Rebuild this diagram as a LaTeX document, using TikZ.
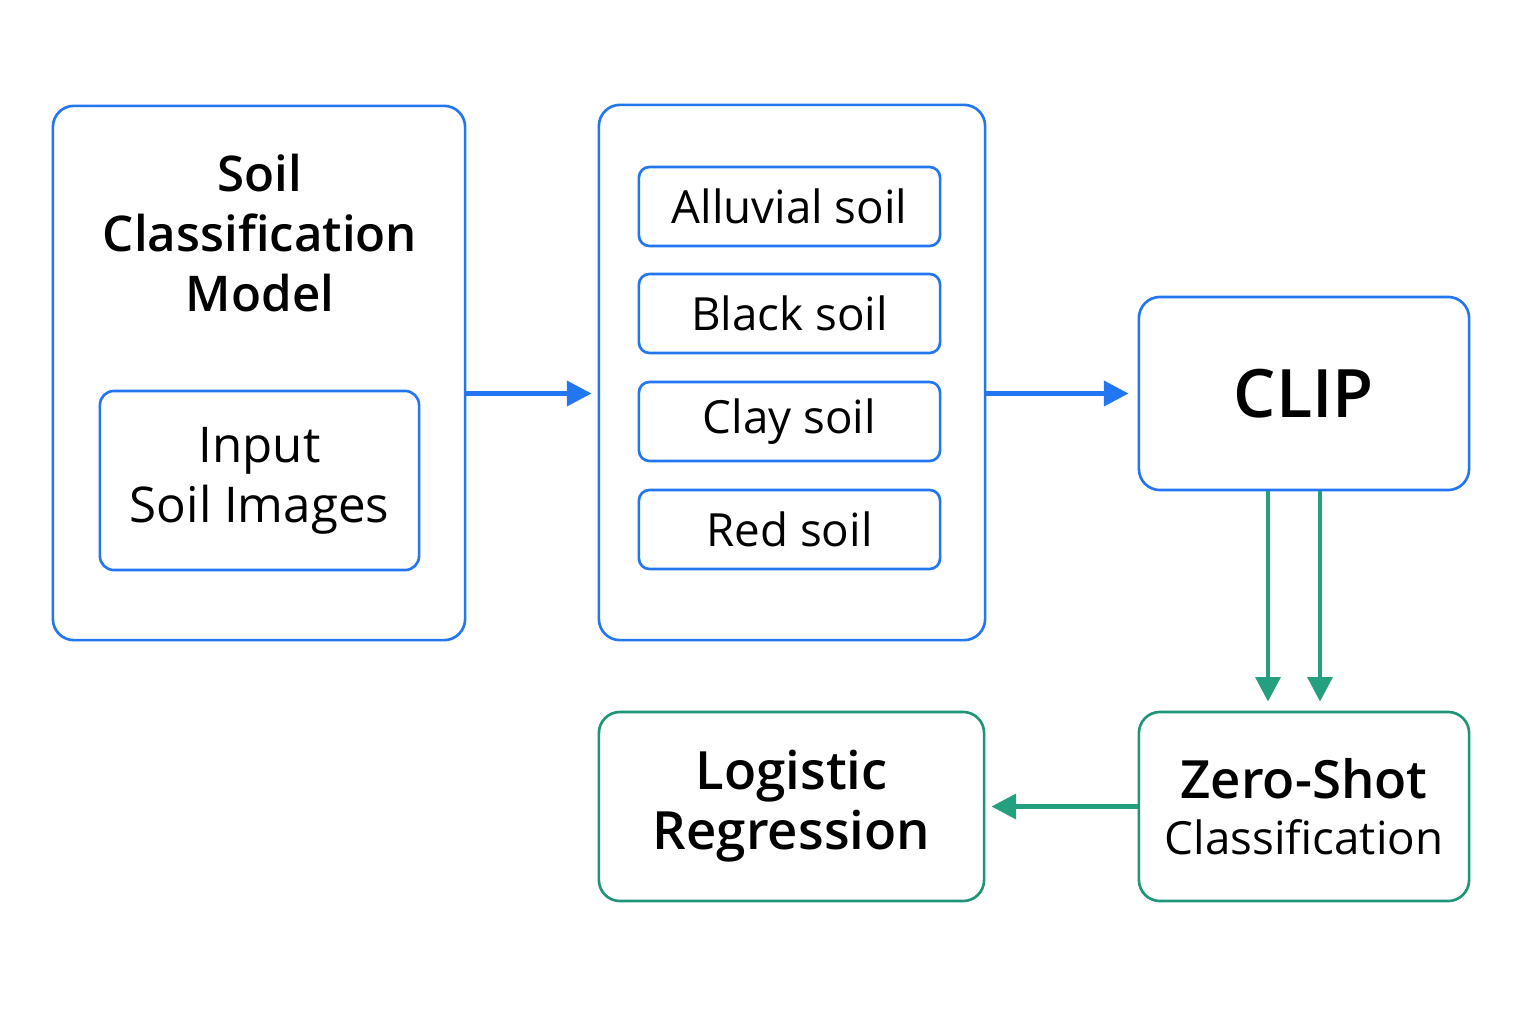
\documentclass[tikz,border=0pt]{standalone}
\usepackage{fontspec}
\setmainfont{Open Sans}[BoldFont={Open Sans Semibold}]
\usetikzlibrary{arrows.meta}
\definecolor{boxblue}{HTML}{2276F2}
\definecolor{boxgreen}{HTML}{1F9577}
\definecolor{arrowgreen}{HTML}{24A07F}
\begin{document}
\begin{tikzpicture}[x=0.01cm,y=-0.01cm,
	bigbox/.style={draw=boxblue,line width=0.75pt,rounded corners=6pt,inner sep=0pt},
	smallbox/.style={draw=boxblue,line width=0.75pt,rounded corners=3pt,inner sep=0pt,
		minimum width=3.01cm,minimum height=0.79cm,font=\fontsize{13}{15}\selectfont},
	greenbox/.style={draw=boxgreen,line width=0.75pt,rounded corners=6pt,inner sep=0pt,
		minimum height=1.89cm,align=center},
	bluearrow/.style={draw=boxblue,line width=1.3pt,-{Triangle[length=7pt,width=7pt]}},
	greenarrow/.style={draw=arrowgreen,line width=1.3pt,-{Triangle[length=7pt,width=7pt]}}]
	
	\useasboundingbox (0,0) rectangle (1536,1024);
	
	\node[bigbox,minimum width=4.12cm,minimum height=5.34cm](model) at (259,373) {};
	\node[align=center,font=\fontsize{14}{17}\selectfont\bfseries](title) at (260,233)
		{Soil\\Classification\\Model};
	\node[bigbox,rounded corners=4pt,minimum width=3.19cm,minimum height=1.79cm,align=center,
		font=\fontsize{14}{17}\selectfont](input) at (259.5,480.5) {Input\\Soil Images};
	
	\node[bigbox,minimum width=3.86cm,minimum height=5.35cm](labels) at (792,372.5) {};
	\node[smallbox](alluvial) at (789.5,206.5) {Alluvial soil};
	\node[smallbox](black)    at (789.5,313.5) {Black soil};
	\node[smallbox](clay)     at (789.5,421.5) {Clay soil};
	\node[smallbox](red)      at (789.5,529.5) {Red soil};
	
	\node[bigbox,minimum width=3.3cm,minimum height=1.93cm,font=\fontsize{19}{22}\selectfont\bfseries](clip) at (1304,393.5) {CLIP};
	
	\node[greenbox,minimum width=3.3cm](zeroshot) at (1304,806.5)
		{{\fontsize{15}{17}\selectfont\bfseries Zero-Shot}\\[4pt]{\fontsize{13}{15}\selectfont Classification}};
	\node[greenbox,minimum width=3.85cm,font=\fontsize{15}{17}\selectfont\bfseries](logreg) at (791.5,806.5)
		{Logistic\\Regression};
	
	\draw[bluearrow,shorten >=0.06cm] (model.east |- clip) -- (labels.west |- clip);
	\draw[bluearrow,shorten >=0.09cm] (labels.east |- clip) -- (clip.west);
	
	\draw[greenarrow,shorten >=0.09cm] ([xshift=-0.36cm]clip.south) -- ([xshift=-0.36cm]zeroshot.north);
	\draw[greenarrow,shorten >=0.09cm] ([xshift=0.16cm]clip.south) -- ([xshift=0.16cm]zeroshot.north);
	\draw[greenarrow,shorten >=0.06cm] (zeroshot.west) -- (logreg.east);
\end{tikzpicture}
\end{document}
